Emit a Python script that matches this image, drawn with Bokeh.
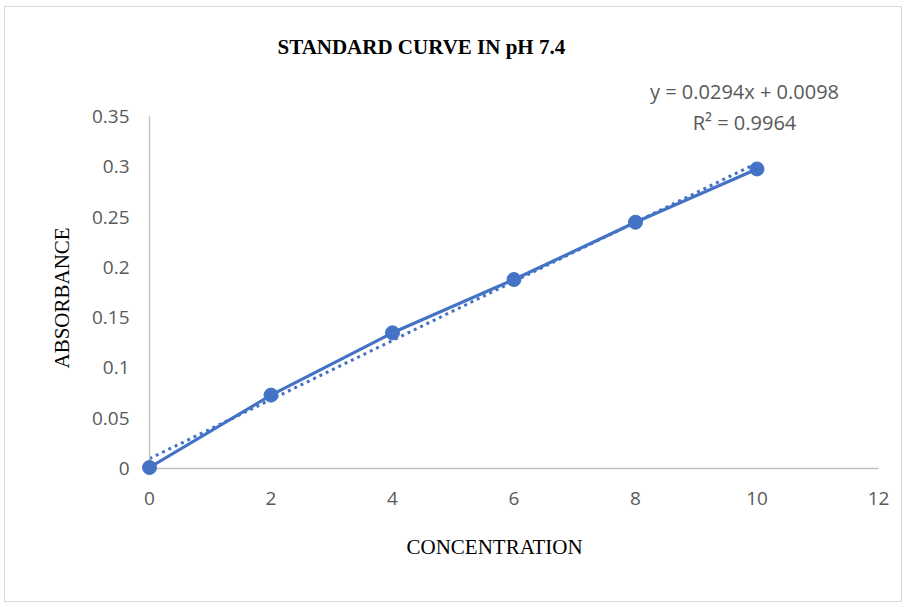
import math
from bokeh.plotting import figure
from bokeh.models import Label, FixedTicker, Range1d, Title
from bokeh.embed import file_html
from bokeh.resources import INLINE

# data
concentration = [0, 2, 4, 6, 8, 10]
absorbance = [0.001, 0.073, 0.135, 0.188, 0.245, 0.298]
trend_slope = 0.0294
trend_intercept = 0.0098
r_squared = 0.9964
x_ticks = [0, 2, 4, 6, 8, 10, 12]
y_ticks = [0, 0.05, 0.1, 0.15, 0.2, 0.25, 0.3, 0.35]
y_tick_labels = {0: "0", 0.05: "0.05", 0.1: "0.1", 0.15: "0.15", 0.2: "0.2",
                 0.25: "0.25", 0.3: "0.3", 0.35: "0.35"}
y_axis_max = 0.35

BLUE = "#4472C4"
GREY_TXT = "#595959"

p = figure(width=898, height=596, output_backend="svg", toolbar_location=None,
           x_range=Range1d(0, 12), y_range=Range1d(0, 0.386),
           min_border_left=144, min_border_right=25, min_border_top=73,
           min_border_bottom=135,
           styles={"border": "1px solid #d9d9d9", "margin": "6px 0 0 4px"})
p.outline_line_color = None
p.xgrid.grid_line_color = None
p.ygrid.grid_line_color = None

for ax in (p.xaxis[0], p.yaxis[0]):
    ax.axis_line_color = "#bfbfbf"
    ax.axis_line_width = 1.3
    ax.major_tick_line_color = None
    ax.minor_tick_line_color = None
    ax.major_label_text_font = "Open Sans"
    ax.major_label_text_font_size = "19px"
    ax.major_label_text_color = GREY_TXT
p.xaxis.ticker = FixedTicker(ticks=x_ticks)
p.yaxis.ticker = FixedTicker(ticks=y_ticks)
p.yaxis.major_label_overrides = y_tick_labels
p.yaxis.bounds = (0, y_axis_max)
p.xaxis.major_label_standoff = 17
p.yaxis.major_label_standoff = 14

# trendline
tx = [concentration[0], concentration[-1]]
ty = [trend_slope * v + trend_intercept for v in tx]
p.line(tx, ty, line_color=BLUE, line_width=3, line_dash="3 4")

# series
p.line(concentration, absorbance, line_color=BLUE, line_width=3.2)
p.scatter(concentration, absorbance, size=14, fill_color=BLUE, line_color=BLUE,
          level="overlay")

# outside texts as titles
main_title = Title(text="STANDARD CURVE IN pH 7.4", text_font="Liberation Serif",
                   text_font_size="21px", text_font_style="bold", text_color="black",
                   align="left", offset=128, standoff=44)
p.add_layout(main_title, "above")
x_title = Title(text="CONCENTRATION", text_font="Liberation Serif",
                text_font_size="21px", text_font_style="normal", text_color="black",
                align="left", offset=257, standoff=51)
p.add_layout(x_title, "below")
y_title = Title(text="ABSORBANCE", text_font="Liberation Serif",
                text_font_size="21px", text_font_style="normal", text_color="black",
                align="left", offset=100, standoff=30)
p.add_layout(y_title, "left")

# equation labels inside the frame
for yy, txt in ((377, f"y = {trend_slope}x + {trend_intercept}"),
                (346, f"R\u00b2 = {r_squared}")):
    p.add_layout(Label(x=595, y=yy, x_units="screen", y_units="screen", level="overlay",
                       text=txt, text_font="Open Sans",
                       text_font_size="20px", text_color=GREY_TXT,
                       text_align="center", text_baseline="middle"))

open("out.html", "w").write(file_html(p, INLINE))
